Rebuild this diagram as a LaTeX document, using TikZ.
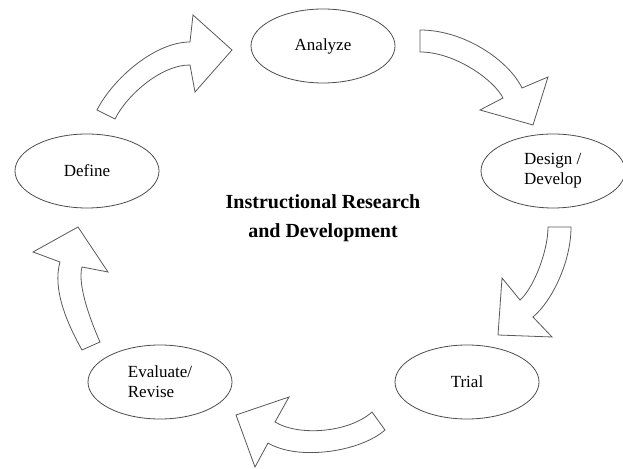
\documentclass[tikz,border=0pt]{standalone}
\usepackage{fontspec}
\setmainfont{Liberation Serif}
\usetikzlibrary{shapes.geometric}
\tikzstyle{cycleBox} = [shape=ellipse, draw=black!70, line width=0.8pt,
	align=left, inner sep=0pt, font=\fontsize{17}{20}\selectfont]
\tikzstyle{CycleBox} = [cycleBox, minimum width=144pt, minimum height=74pt]
\tikzstyle{TitleText} = [align=center, font=\fontsize{20}{29}\selectfont\bfseries]
\tikzstyle{blockArrow} = [draw=black!65, line width=0.8pt, fill=white, line join=miter]

\begin{document}
\begin{tikzpicture}[x=1pt, y=1pt, node distance=125pt]
  \useasboundingbox (0,0) rectangle (623,468);

  \node (ANALYZE) [CycleBox] at (323,422) {Analyze};
  \node (DEFINE) [CycleBox, below of=ANALYZE, xshift=-236pt] {Define};
  \node (DESIGN) [CycleBox, below of=ANALYZE, xshift=230pt] {Design /\\Develop};
  \node (EVAL) [CycleBox, below of=DEFINE, yshift=-86pt, xshift=73pt] {Evaluate/\\Revise};
  \node (TRIAL) [CycleBox, below of=DESIGN, yshift=-86pt, xshift=-86pt] {Trial};
  \node (TITLE) [TitleText, below of=ANALYZE, yshift=-47pt] {Instructional Research\\and Development};

  % block arrows round the cycle
  \draw [blockArrow] (97,358) .. controls (113,389.5) and (155,426) .. (190,426)
    -- (193,453) -- (232,418) -- (195,376) -- (190,403)
    .. controls (160,403) and (126,371.5) .. (115,349) -- cycle;
  \draw [blockArrow] (420,438) .. controls (465,438) and (509,407) .. (522,380)
    -- (548,391) -- (533,343) -- (480,358) -- (503,370)
    .. controls (494,388) and (455,416) .. (420,416) -- cycle;
  \draw [blockArrow] (571,241) .. controls (571,206) and (552,167) .. (533,151)
    -- (552,131) -- (498,133) -- (502,190) -- (520,168)
    .. controls (533,179) and (548,216) .. (548,241) -- cycle;
  \draw [blockArrow] (372,56) .. controls (350,36) and (300,31) .. (275,46)
    -- (289,71) -- (236,53) -- (255,1) -- (268,25)
    .. controls (298,7) and (360,16) .. (385,38) -- cycle;
  \draw [blockArrow] (82,118) .. controls (68,143) and (52,178) .. (60,206)
    -- (33,216) -- (78,241) -- (108,196) -- (82,201)
    .. controls (77,182) and (92,144) .. (100,126) -- cycle;

\end{tikzpicture}
\end{document}
